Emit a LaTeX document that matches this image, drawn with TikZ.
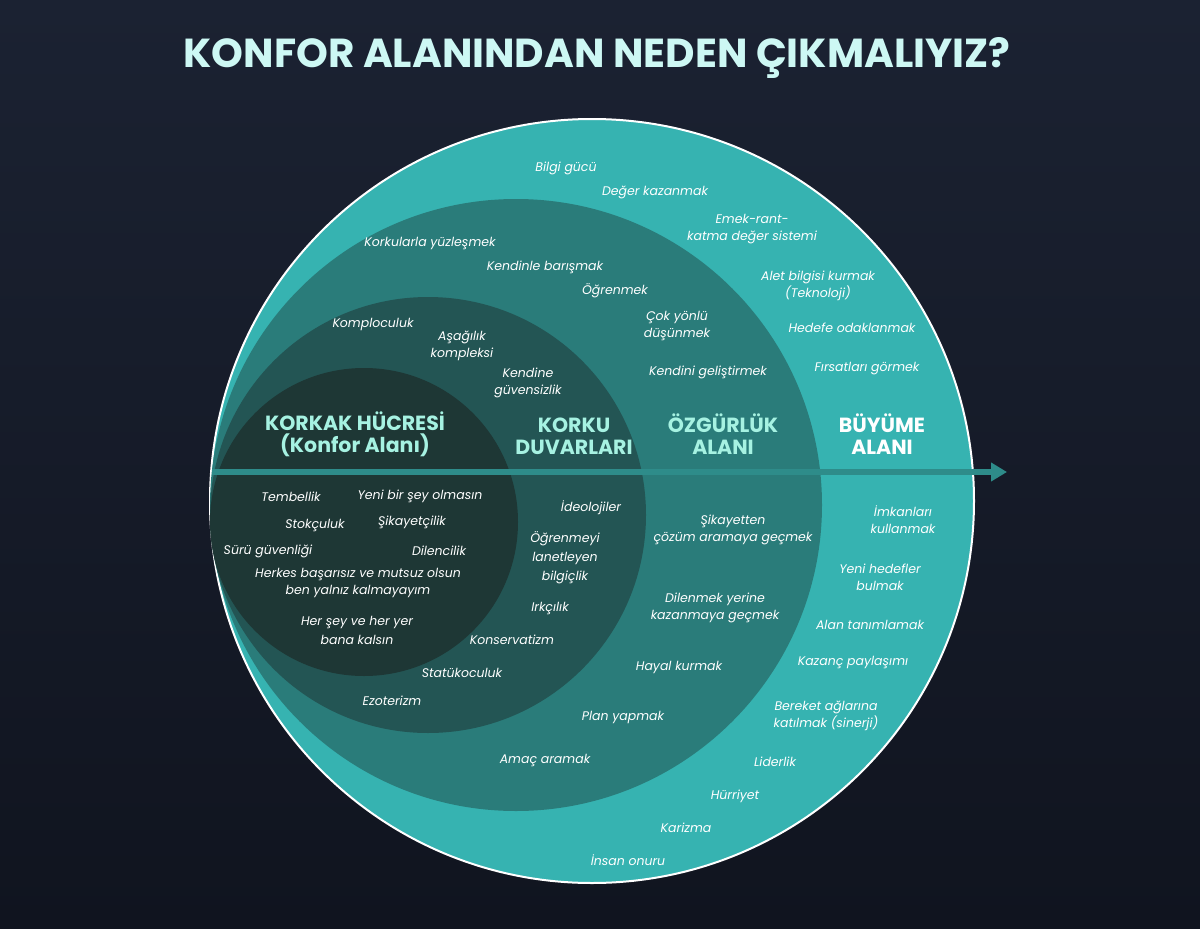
\documentclass[tikz,border=0pt]{standalone}
\usepackage{fontspec}
\setmainfont{Poppins}
\usetikzlibrary{arrows.meta}
\definecolor{bgA}{HTML}{1B2232}
\definecolor{bgB}{HTML}{10141F}
\definecolor{cOuter}{HTML}{36B3B1}
\definecolor{cThird}{HTML}{2A7C7A}
\definecolor{cSecond}{HTML}{235554}
\definecolor{cInner}{HTML}{1E3735}
\definecolor{cArrow}{HTML}{2E8C8A}
\definecolor{cTitle}{HTML}{CDF8F4}
\definecolor{cHead}{HTML}{A6F2E2}
\begin{document}
\begin{tikzpicture}[x=1pt,y=-1pt,
  lbl/.style={text=white,font=\fontsize{12.5}{17}\selectfont\itshape,align=center,inner sep=0pt},
  head/.style={text=cHead,font=\fontsize{20.5}{22}\selectfont\bfseries,align=center,inner sep=0pt}]
\shade[top color=bgA,bottom color=bgB] (0,0) rectangle (1200,929);
\useasboundingbox (0,0) rectangle (1200,929);
\node[text=cTitle,font=\fontsize{40.5}{44}\selectfont\bfseries] (title) at (597,58) {KONFOR ALANINDAN NEDEN ÇIKMALIYIZ?};
\fill[cOuter,draw=white,line width=2pt] (592,501) circle (382);
\fill[cThird] (516,505) circle (306);
\fill[cSecond] (428,515) circle (218);
\fill[cInner] (364,522) circle (154);
\coordinate (as) at (212,472);
\coordinate (ae) at (1007,472);
\draw[cArrow,line width=6pt,-{Triangle[length=16pt,width=18pt]}] (as) -- (ae);
% headings
\node[head] (h1) at (355,434) {KORKAK HÜCRESİ\\(Konfor Alanı)};
\node[head] (h2) at (574,436) {KORKU\\DUVARLARI};
\node[head] (h3) at (723,434) {ÖZGÜRLÜK\\ALANI};
\node[head,text=white] (h4) at (882,434) {BÜYÜME\\ALANI};
% outer ring
\node[lbl] (o1) at (566,168) {Bilgi gücü};
\node[lbl] (o2) at (655,192) {Değer kazanmak};
\node[lbl] (o3) at (752,229) {Emek-rant-\\katma değer sistemi};
\node[lbl] (o4) at (818,286) {Alet bilgisi kurmak\\(Teknoloji)};
\node[lbl] (o5) at (852,328) {Hedefe odaklanmak};
\node[lbl] (o6) at (867,369) {Fırsatları görmek};
\node[lbl] (o7) at (903,520) {İmkanları\\kullanmak};
\node[lbl] (o8) at (880,577) {Yeni hedefler\\bulmak};
\node[lbl] (o9) at (870,625) {Alan tanımlamak};
\node[lbl] (o10) at (853,662) {Kazanç paylaşımı};
\node[lbl] (o11) at (826,716) {Bereket ağlarına\\katılmak (sinerji)};
\node[lbl] (o12) at (775,762) {Liderlik};
\node[lbl] (o13) at (735,796) {Hürriyet};
\node[lbl] (o14) at (686,828) {Karizma};
\node[lbl] (o15) at (628,860) {İnsan onuru};
% third ring
\node[lbl] (t1) at (430,243) {Korkularla yüzleşmek};
\node[lbl] (t2) at (545,267) {Kendinle barışmak};
\node[lbl] (t3) at (615,291) {Öğrenmek};
\node[lbl] (t4) at (677,326) {Çok yönlü\\düşünmek};
\node[lbl] (t5) at (708,372) {Kendini geliştirmek};
\node[lbl] (t6) at (733,530) {Şikayetten\\çözüm aramaya geçmek};
\node[lbl] (t7) at (715,608) {Dilenmek yerine\\kazanmaya geçmek};
\node[lbl] (t8) at (679,667) {Hayal kurmak};
\node[lbl] (t9) at (623,717) {Plan yapmak};
\node[lbl] (t10) at (545,760) {Amaç aramak};
% second ring
\node[lbl] (s1) at (373,324) {Komploculuk};
\node[lbl] (s2) at (462,346) {Aşağılık\\kompleksi};
\node[lbl] (s3) at (528,383) {Kendine\\güvensizlik};
\node[lbl] (s4) at (591,508) {İdeolojiler};
\node[lbl,font=\fontsize{12.5}{19}\selectfont\itshape] (s5) at (565,558) {Öğrenmeyi\\lanetleyen\\bilgiçlik};
\node[lbl] (s6) at (550,608) {Irkçılık};
\node[lbl] (s7) at (512,640) {Konservatizm};
\node[lbl] (s8) at (462,673) {Statükoculuk};
\node[lbl] (s9) at (392,701) {Ezoterizm};
% inner
\node[lbl] (i1) at (291,497) {Tembellik};
\node[lbl] (i2) at (420,496) {Yeni bir şey olmasın};
\node[lbl] (i3) at (315,525) {Stokçuluk};
\node[lbl] (i4) at (412,522) {Şikayetçilik};
\node[lbl] (i5) at (268,551) {Sürü güvenliği};
\node[lbl] (i6) at (439,551) {Dilencilik};
\node[lbl] (i7) at (358,583) {Herkes başarısız ve mutsuz olsun\\ben yalnız kalmayayım};
\node[lbl,font=\fontsize{12.5}{19}\selectfont\itshape] (i8) at (357,630) {Her şey ve her yer\\bana kalsın};
\end{tikzpicture}
\end{document}
